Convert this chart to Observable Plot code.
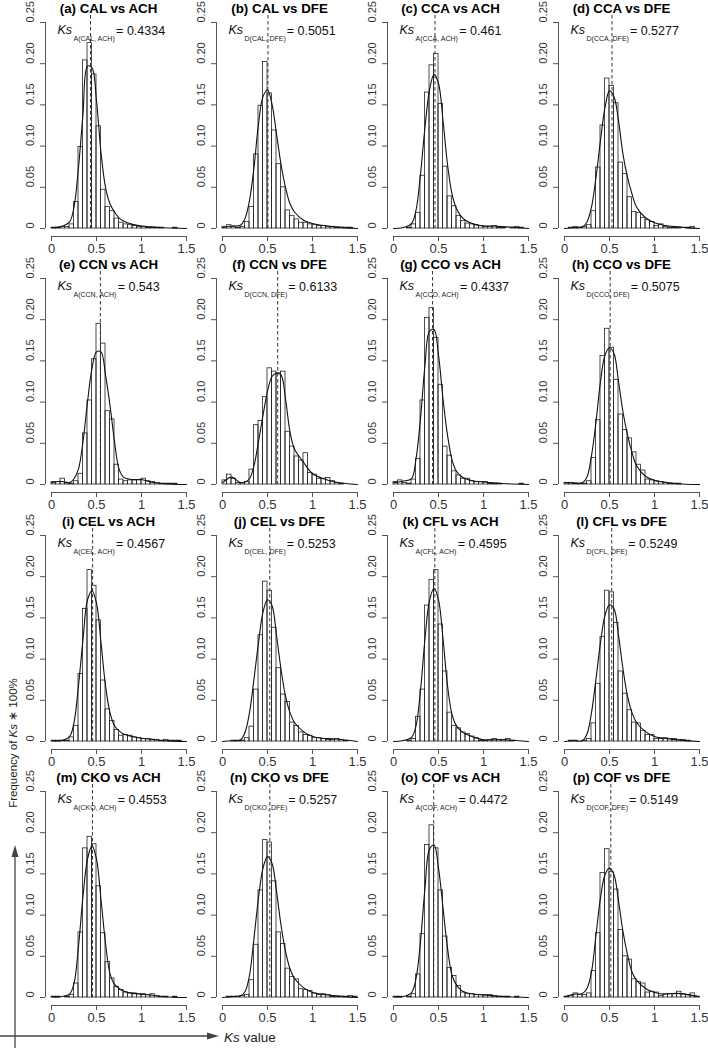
<!DOCTYPE html>
<html><head><meta charset="utf-8">
<script src="https://cdn.jsdelivr.net/npm/d3@7"></script>
<script src="https://cdn.jsdelivr.net/npm/@observablehq/plot@0.6"></script>
<style>
body{margin:0;background:#fff;}
#wrap{position:relative;width:708px;height:1048px;overflow:hidden;font-family:"Liberation Sans",Arial,Helvetica,sans-serif;}
#wrap svg.deco{position:absolute;left:0;top:0;pointer-events:none;}
</style></head><body><div id="wrap"></div>
<script>
// ---------------- data ----------------
const panelIds = ["a","b","c","d","e","f","g","h","i","j","k","l","m","n","o","p"];
const panelTitles = ["CAL vs ACH","CAL vs DFE","CCA vs ACH","CCA vs DFE","CCN vs ACH","CCN vs DFE","CCO vs ACH","CCO vs DFE","CEL vs ACH","CEL vs DFE","CFL vs ACH","CFL vs DFE","CKO vs ACH","CKO vs DFE","COF vs ACH","COF vs DFE"];
const ksValues = [0.4334,0.5051,0.461,0.5277,0.543,0.6133,0.4337,0.5075,0.4567,0.5253,0.4595,0.5249,0.4553,0.5257,0.4472,0.5149];
const ksSubscripts = ["A(CAL, ACH)","D(CAL, DFE)","A(CCA, ACH)","D(CCA, DFE)","A(CCN, ACH)","D(CCN, DFE)","A(CCO, ACH)","D(CCO, DFE)","A(CEL, ACH)","D(CEL, DFE)","A(CFL, ACH)","D(CFL, DFE)","A(CKO, ACH)","D(CKO, DFE)","A(COF, ACH)","D(COF, DFE)"];
const binWidth = 0.05;
const binStarts = [0,0.05,0.1,0.15,0.2,0.25,0.3,0.35,0.4,0.45,0.5,0.55,0.6,0.65,0.7,0.75,0.8,0.85,0.9,0.95,1,1.05,1.1,1.15,1.2,1.25,1.3,1.35,1.4,1.45];
const yTicks = [0,0.05,0.1,0.15,0.2,0.25];
const yTickLabels = ["0","0.05","0.10","0.15","0.20","0.25"];
const xTicks = [0,0.5,1,1.5];
const xTickLabels = ["0","0.5","1","1.5"];
const densityX = [0,0.1,0.2,0.25,0.3,0.35,0.4,0.45,0.5,0.55,0.6,0.65,0.7,0.75,0.8,0.9,1.0,1.1,1.25,1.5];

// histogram frequencies (30 bins of width 0.05, 0 to 1.5)
const hist_a = [0.001,0.001,0.002,0.002,0.005,0.032,0.099,0.204,0.225,0.187,0.124,0.047,0.026,0.021,0.012,0.007,0.005,0.004,0.003,0.002,0.002,0.001,0.001,0.001,0.001,0.000,0.000,0.001,0.000,0.000];
const hist_b = [0.002,0.004,0.002,0.001,0.002,0.008,0.026,0.090,0.149,0.202,0.164,0.119,0.078,0.050,0.022,0.015,0.011,0.007,0.007,0.005,0.004,0.003,0.003,0.002,0.002,0.001,0.001,0.001,0.001,0.000];
const hist_c = [0.000,0.000,0.000,0.001,0.005,0.019,0.064,0.165,0.198,0.212,0.151,0.075,0.039,0.027,0.015,0.009,0.006,0.005,0.004,0.003,0.002,0.002,0.003,0.001,0.001,0.000,0.001,0.002,0.001,0.000];
const hist_d = [0.000,0.001,0.002,0.001,0.002,0.004,0.021,0.074,0.125,0.182,0.173,0.152,0.080,0.066,0.038,0.020,0.019,0.013,0.010,0.008,0.003,0.005,0.002,0.001,0.001,0.001,0.000,0.001,0.002,0.000];
const hist_e = [0.003,0.003,0.007,0.002,0.001,0.004,0.013,0.062,0.102,0.152,0.195,0.171,0.089,0.079,0.024,0.006,0.004,0.005,0.005,0.005,0.007,0.004,0.003,0.002,0.001,0.001,0.001,0.001,0.000,0.000];
const hist_f = [0.005,0.012,0.007,0.002,0.002,0.003,0.018,0.072,0.077,0.106,0.141,0.137,0.135,0.137,0.064,0.046,0.034,0.029,0.038,0.014,0.012,0.007,0.007,0.008,0.004,0.002,0.001,0.000,0.000,0.000];
const hist_g = [0.003,0.005,0.002,0.001,0.006,0.031,0.102,0.202,0.214,0.178,0.121,0.046,0.035,0.016,0.011,0.007,0.007,0.004,0.003,0.003,0.003,0.001,0.001,0.001,0.000,0.000,0.000,0.000,0.001,0.000];
const hist_h = [0.002,0.002,0.001,0.001,0.001,0.004,0.032,0.078,0.156,0.189,0.166,0.127,0.085,0.066,0.056,0.039,0.024,0.017,0.006,0.005,0.004,0.003,0.002,0.001,0.001,0.001,0.000,0.000,0.000,0.000];
const hist_i = [0.001,0.001,0.001,0.001,0.005,0.019,0.082,0.161,0.208,0.189,0.147,0.074,0.039,0.025,0.014,0.007,0.008,0.007,0.005,0.004,0.003,0.003,0.002,0.002,0.001,0.002,0.001,0.001,0.001,0.000];
const hist_j = [0.000,0.000,0.001,0.001,0.001,0.004,0.018,0.063,0.129,0.194,0.183,0.138,0.089,0.057,0.048,0.023,0.019,0.011,0.008,0.007,0.004,0.004,0.003,0.002,0.002,0.003,0.002,0.001,0.000,0.000];
const hist_k = [0.000,0.000,0.000,0.001,0.003,0.030,0.063,0.165,0.196,0.208,0.142,0.085,0.035,0.019,0.016,0.011,0.009,0.006,0.004,0.001,0.001,0.002,0.003,0.002,0.002,0.003,0.001,0.000,0.000,0.000];
const hist_l = [0.000,0.001,0.001,0.000,0.001,0.003,0.022,0.070,0.127,0.183,0.181,0.144,0.085,0.058,0.038,0.023,0.022,0.013,0.008,0.008,0.003,0.003,0.004,0.003,0.003,0.002,0.002,0.001,0.000,0.000];
const hist_m = [0.001,0.001,0.000,0.001,0.003,0.017,0.079,0.181,0.195,0.186,0.135,0.078,0.043,0.023,0.013,0.009,0.006,0.005,0.005,0.004,0.004,0.003,0.004,0.002,0.001,0.001,0.000,0.001,0.000,0.000];
const hist_n = [0.000,0.001,0.001,0.001,0.002,0.003,0.021,0.064,0.130,0.191,0.188,0.141,0.079,0.065,0.035,0.025,0.022,0.010,0.009,0.008,0.005,0.003,0.004,0.003,0.001,0.001,0.001,0.001,0.002,0.001];
const hist_o = [0.001,0.001,0.000,0.001,0.004,0.028,0.077,0.185,0.209,0.181,0.130,0.074,0.036,0.026,0.014,0.006,0.004,0.004,0.003,0.003,0.003,0.003,0.002,0.001,0.001,0.001,0.000,0.001,0.000,0.000];
const hist_p = [0.001,0.002,0.005,0.003,0.003,0.005,0.032,0.078,0.151,0.180,0.152,0.131,0.082,0.050,0.046,0.022,0.019,0.017,0.006,0.007,0.006,0.002,0.004,0.004,0.004,0.007,0.004,0.003,0.005,0.001];

// density curves read at densityX
const dens_a = [0.001,0.002,0.008,0.026,0.074,0.139,0.197,0.195,0.155,0.092,0.050,0.030,0.020,0.013,0.009,0.005,0.003,0.002,0.001,0.000];
const dens_b = [0.001,0.003,0.004,0.012,0.034,0.074,0.127,0.160,0.168,0.151,0.115,0.078,0.050,0.030,0.020,0.010,0.006,0.004,0.002,0.000];
const dens_c = [0.000,0.001,0.006,0.022,0.066,0.123,0.168,0.187,0.176,0.131,0.078,0.042,0.024,0.015,0.010,0.005,0.003,0.003,0.002,0.000];
const dens_d = [0.000,0.001,0.002,0.008,0.026,0.062,0.107,0.147,0.167,0.160,0.131,0.090,0.062,0.042,0.026,0.013,0.007,0.004,0.002,0.000];
const dens_e = [0.002,0.004,0.002,0.007,0.019,0.052,0.100,0.141,0.161,0.161,0.133,0.096,0.052,0.019,0.009,0.006,0.006,0.003,0.001,0.000];
const dens_f = [0.002,0.009,0.002,0.003,0.007,0.023,0.052,0.084,0.113,0.131,0.135,0.133,0.104,0.064,0.043,0.027,0.013,0.008,0.003,0.000];
const dens_g = [0.002,0.004,0.007,0.031,0.080,0.145,0.186,0.188,0.157,0.104,0.060,0.030,0.016,0.010,0.007,0.004,0.003,0.002,0.001,0.000];
const dens_h = [0.002,0.002,0.002,0.009,0.035,0.076,0.125,0.157,0.166,0.159,0.125,0.088,0.060,0.039,0.023,0.010,0.005,0.003,0.001,0.000];
const dens_i = [0.001,0.001,0.006,0.023,0.068,0.124,0.172,0.183,0.168,0.120,0.068,0.035,0.019,0.013,0.009,0.006,0.004,0.003,0.001,0.000];
const dens_j = [0.000,0.001,0.002,0.011,0.035,0.076,0.120,0.157,0.172,0.165,0.129,0.088,0.055,0.035,0.023,0.012,0.006,0.004,0.003,0.000];
const dens_k = [0.000,0.001,0.005,0.019,0.062,0.125,0.171,0.186,0.172,0.125,0.068,0.033,0.019,0.013,0.009,0.005,0.002,0.002,0.002,0.000];
const dens_l = [0.000,0.001,0.001,0.009,0.035,0.076,0.120,0.153,0.166,0.161,0.129,0.088,0.055,0.035,0.023,0.012,0.006,0.004,0.002,0.000];
const dens_m = [0.001,0.001,0.004,0.017,0.062,0.123,0.168,0.184,0.168,0.119,0.066,0.029,0.016,0.011,0.008,0.005,0.004,0.003,0.001,0.000];
const dens_n = [0.000,0.001,0.002,0.007,0.027,0.072,0.121,0.157,0.171,0.163,0.129,0.088,0.056,0.035,0.023,0.012,0.006,0.004,0.002,0.000];
const dens_o = [0.001,0.001,0.006,0.023,0.068,0.133,0.180,0.185,0.157,0.109,0.060,0.027,0.015,0.009,0.006,0.004,0.003,0.002,0.001,0.000];
const dens_p = [0.001,0.004,0.005,0.011,0.031,0.076,0.121,0.149,0.157,0.149,0.117,0.080,0.052,0.031,0.021,0.011,0.006,0.004,0.005,0.001];

const hists = [hist_a,hist_b,hist_c,hist_d,hist_e,hist_f,hist_g,hist_h,hist_i,hist_j,hist_k,hist_l,hist_m,hist_n,hist_o,hist_p];
const denss = [dens_a,dens_b,dens_c,dens_d,dens_e,dens_f,dens_g,dens_h,dens_i,dens_j,dens_k,dens_l,dens_m,dens_n,dens_o,dens_p];

// ---------------- layout ----------------
const FONT = '"Liberation Sans", Arial, Helvetica, sans-serif';
const W = 190, H = 257;
const colStep = 171, rowStep = 256.3;
const wrap = document.getElementById("wrap");
const ctx = document.createElement("canvas").getContext("2d");
function textWidth(s, px) { ctx.font = px + "px " + FONT; return ctx.measureText(s).width; }

panelIds.forEach((id, i) => {
  const bins = binStarts.map((x, j) => ({x1: x, x2: x + binWidth, y: hists[i][j]}));
  const curve = densityX.map((x, j) => ({x, y: denss[i][j]}));
  const sub = ksSubscripts[i];
  const subW = textWidth(sub, 7);
  const title = "(" + id + ") " + panelTitles[i];
  const svg = Plot.plot({
    width: W, height: H,
    marginLeft: 51, marginRight: 4, marginTop: 22, marginBottom: 29,
    x: {domain: [0, 1.5], label: null},
    y: {domain: [0, 0.25], label: null},
    style: {background: "transparent", overflow: "visible", fontFamily: FONT, color: "#111"},
    marks: [
      Plot.rectY(bins, {x1: "x1", x2: "x2", y: "y", fill: "none", stroke: "#222", strokeWidth: 0.8}),
      Plot.line(curve, {x: "x", y: "y", curve: "catmull-rom", stroke: "#111", strokeWidth: 1.1}),
      Plot.ruleX([ksValues[i]], {stroke: "#333", strokeWidth: 1, strokeDasharray: "3.5,2.5", insetTop: -7}),
      Plot.ruleX([0], {dx: -6, stroke: "#555", strokeWidth: 1}),
      Plot.ruleY([0], {dy: 8, stroke: "#555", strokeWidth: 1}),
      Plot.axisY({ticks: yTicks, tickSize: 5, dx: -6, stroke: "#555", label: null, tickFormat: () => ""}),
      Plot.text(yTicks, {y: d => d, text: (d, j) => yTickLabels[j], frameAnchor: "left", dx: -21, rotate: -90, fontSize: 11, fill: "#333"}),
      Plot.axisX({ticks: xTicks, tickSize: 5, dy: 8, tickPadding: 2, stroke: "#555", fill: "#333", fontSize: 13, label: null, tickFormat: d => xTickLabels[xTicks.indexOf(d)]}),
      Plot.text([title], {text: d => d, frameAnchor: "top-left", dx: 57, dy: -10, lineAnchor: "bottom", textAnchor: "middle", fontWeight: "bold", fontSize: 13.3, fill: "#000"}),
      Plot.text(["Ks"], {text: d => d, frameAnchor: "top-left", dx: 6, dy: 11.5, lineAnchor: "bottom", textAnchor: "start", fontStyle: "italic", fontSize: 12.5, fill: "#111"}),
      Plot.text([sub], {text: d => d, frameAnchor: "top-left", dx: 22, dy: 18, lineAnchor: "bottom", textAnchor: "start", fontSize: 7, fill: "#222"}),
      Plot.text(["= " + ksValues[i]], {text: d => d, frameAnchor: "top-left", dx: 23 + subW, dy: 12, lineAnchor: "bottom", textAnchor: "start", fontSize: 12.5, fill: "#111"})
    ]
  });
  svg.style.position = "absolute";
  svg.style.left = (i % 4) * colStep + "px";
  svg.style.top = Math.floor(i / 4) * rowStep + "px";
  svg.style.maxWidth = "none";
  wrap.appendChild(svg);
});

// decorative axis arrows (bottom-left)
const NS = "http://www.w3.org/2000/svg";
const deco = document.createElementNS(NS, "svg");
deco.setAttribute("class", "deco");
deco.setAttribute("width", 708); deco.setAttribute("height", 1048);
deco.innerHTML = `
  <line x1="15" y1="1048" x2="15" y2="855" stroke="#444" stroke-width="1.3"/>
  <polygon points="15,845 11.5,857 18.5,857" fill="#444"/>
  <line x1="0" y1="1036" x2="208" y2="1036" stroke="#444" stroke-width="1.3"/>
  <polygon points="219,1036 207,1032.5 207,1039.5" fill="#444"/>
  <text transform="translate(17,743) rotate(-90)" text-anchor="middle" font-family='${FONT}' font-size="11.5" fill="#222">Frequency of <tspan font-style="italic">Ks</tspan> ∗ 100%</text>
  <text x="224" y="1042" font-family='${FONT}' font-size="13.5" fill="#222"><tspan font-style="italic">Ks</tspan> value</text>`;
wrap.appendChild(deco);
</script></body></html>
